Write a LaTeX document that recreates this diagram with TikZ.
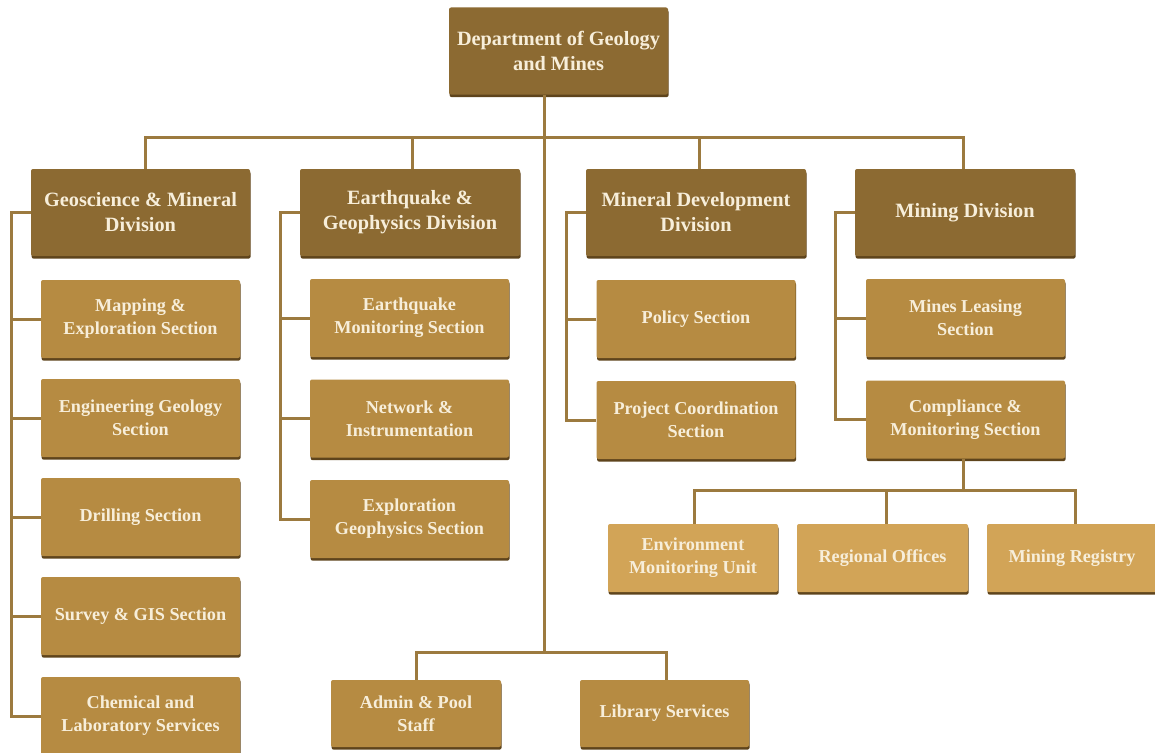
\documentclass[tikz,border=0pt]{standalone}
\usepackage{fontspec}
\setmainfont{Liberation Serif}
\usepackage{xcolor}
\usepackage{tikz}
\usetikzlibrary{positioning,calc,shadows}

\definecolor{divc}{HTML}{8C6A32}
\definecolor{secc}{HTML}{B68B42}
\definecolor{unitc}{HTML}{D2A457}
\definecolor{linec}{HTML}{9C7A3F}
\definecolor{shadc}{HTML}{5E441C}
\definecolor{txtc}{HTML}{F7EEDA}

\tikzset{
    box/.style={rounded corners=2pt, text=txtc, align=center, inner sep=0pt,
        font=\bfseries, drop shadow={shadow xshift=0.6pt, shadow yshift=-2.6pt, fill=shadc, opacity=1}},
    divbox/.style={box, fill=divc, minimum width=219pt, minimum height=87pt,
        font=\fontsize{20.3}{25}\selectfont\bfseries},
    secbox/.style={box, fill=secc, minimum width=199pt, minimum height=78pt,
        font=\fontsize{18.2}{23}\selectfont\bfseries},
    unitbox/.style={box, fill=unitc, minimum width=170pt, minimum height=68pt,
        font=\fontsize{18.2}{23}\selectfont\bfseries},
    link/.style={draw=linec, line width=3pt}
}

\begin{document}
\begin{tikzpicture}[x=1pt, y=-1pt]
    \useasboundingbox (0,0) rectangle (1155,752);
    \clip (0,0) rectangle (1155,752);

    % Head
    \node[divbox] (top) at (558.5,51) {Department of Geology\\and Mines};

    % Divisions
    \node[divbox] (geo) at (140.5,212.5) {Geoscience \& Mineral\\Division};
    \node[divbox, minimum width=220pt] (eq) at (410,212.5) {Earthquake \&\\Geophysics Division};
    \node[divbox, minimum width=220pt] (mdev) at (696,212.5) {Mineral Development\\Division};
    \node[divbox, minimum width=220pt] (mining) at (965,212.5) {Mining Division};

    % Sections
    \node[secbox] (map) at (140.5,319) {Mapping \&\\Exploration Section};
    \node[secbox] (eng) at (140.5,418) {Engineering Geology\\Section};
    \node[secbox] (drill) at (140.5,517) {Drilling Section};
    \node[secbox] (gis) at (140.5,616) {Survey \& GIS Section};
    \node[secbox] (chem) at (140.5,716) {Chemical and\\Laboratory Services};

    \node[secbox] (eqmon) at (409.5,318) {Earthquake\\Monitoring Section};
    \node[secbox] (net) at (409.5,418.5) {Network \&\\Instrumentation};
    \node[secbox] (expl) at (409.5,519) {Exploration\\Geophysics Section};

    \node[secbox] (policy) at (696,319) {Policy Section};
    \node[secbox] (proj) at (696,420) {Project Coordination\\Section};

    \node[secbox] (lease) at (965.5,318) {Mines Leasing\\Section};
    \node[secbox] (comp) at (965.5,419.5) {Compliance \&\\Monitoring Section};

    % Units
    \node[unitbox] (env) at (693,558) {Environment\\Monitoring Unit};
    \node[unitbox, minimum width=171pt] (reg) at (882.5,558) {Regional Offices};
    \node[unitbox] (registry) at (1072,558) {Mining Registry};

    \node[secbox, minimum width=170pt, minimum height=67pt] (admin) at (416,713.5) {Admin \& Pool\\Staff};
    \node[secbox, minimum width=169pt, minimum height=67pt] (lib) at (664.5,713.5) {Library Services};

    % Connectors
    \coordinate (bar) at (544,137);
    \coordinate (hub) at (544,652);
    \draw[link] (top.south -| bar) -- (hub);
    \draw[link] ([xshift=5pt]geo.north) |- (bar) -| ([xshift=-2pt]mining.north);
    \draw[link] ([xshift=2pt]eq.north) -- ++(0,-32);
    \draw[link] ([xshift=3pt]mdev.north) -- ++(0,-32);
    \draw[link] (admin.north) |- (hub) -| ([xshift=2pt]lib.north);

    \draw[link] (geo.west) -| ($(geo.west)+(-19,0)$) |- (chem.west);
    \foreach \s in {map,eng,drill,gis}
        \draw[link] (\s.west) -- ++(-29,0);

    \draw[link] (eq.west) -| ($(eq.west)+(-19,0)$) |- (expl.west);
    \foreach \s in {eqmon,net}
        \draw[link] (\s.west) -- ++(-29,0);

    \draw[link] (mdev.west) -| ($(mdev.west)+(-19,0)$) |- (proj.west);
    \draw[link] (policy.west) -- ++(-30,0);

    \draw[link] (mining.west) -| ($(mining.west)+(-19,0)$) |- (comp.west);
    \draw[link] (lease.west) -- ++(-30,0);

    \coordinate (lhub) at (963,490);
    \draw[link] ([xshift=-2pt]comp.south) -- ++(0,31);
    \draw[link] ([xshift=1pt]env.north) |- (lhub) -| ([xshift=3pt]registry.north);
    \draw[link] ([xshift=4pt]reg.north) -- ++(0,-34);
\end{tikzpicture}
\end{document}
